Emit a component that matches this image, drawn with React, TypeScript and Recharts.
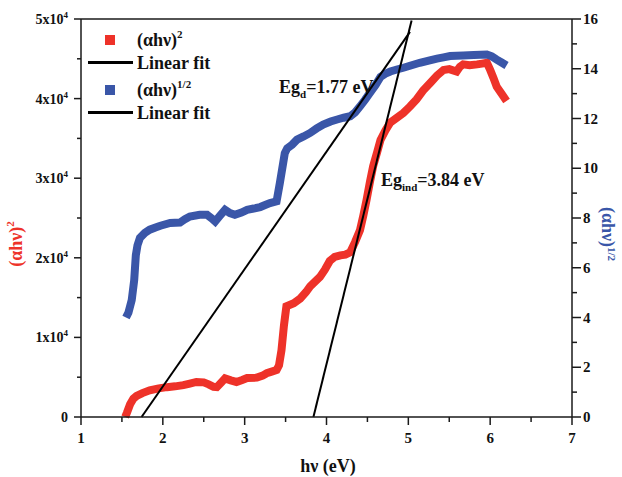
import React from 'react';
import { ComposedChart, Line, XAxis, YAxis, ReferenceLine } from 'recharts';

const RED = '#ee3229';
const BLUE = '#3a56a8';
const INK = '#1a1a1a';
const SERIF = '"Liberation Serif", "Times New Roman", serif';

// axis ticks (majors get a label, halves are minor ticks)
const xTicks = [1, 1.5, 2, 2.5, 3, 3.5, 4, 4.5, 5, 5.5, 6, 6.5, 7];
const leftTicks = [0, 5000, 10000, 15000, 20000, 25000, 30000, 35000, 40000, 45000, 50000];
const rightTicks = [0, 1, 2, 3, 4, 5, 6, 7, 8, 9, 10, 11, 12, 13, 14, 15, 16];

// (αhν)^2 vs hν
const redX = [
  1.54, 1.56, 1.6, 1.64, 1.68, 1.75, 1.84, 1.95, 2.05, 2.15, 2.25, 2.33, 2.41, 2.5, 2.56, 2.62, 2.66,
  2.72, 2.76, 2.83, 2.9, 2.97, 3.03, 3.15, 3.22, 3.27, 3.33, 3.39, 3.42, 3.45, 3.48, 3.51, 3.6, 3.68,
  3.75, 3.8, 3.86, 3.92, 3.98, 4.04, 4.1, 4.17, 4.23, 4.29, 4.35, 4.41, 4.45, 4.49, 4.53, 4.57, 4.62,
  4.66, 4.72, 4.78, 4.86, 4.94, 5.02, 5.1, 5.18, 5.27, 5.35, 5.43, 5.5, 5.59, 5.63, 5.67, 5.75, 5.84,
  5.9, 5.96, 6.0, 6.04, 6.08, 6.14, 6.2,
];
const redY = [
  0, 500, 1600, 2300, 2650, 3000, 3350, 3600, 3750, 3850, 4000, 4200, 4400, 4350, 4100, 3800, 3750,
  4400, 4850, 4600, 4400, 4650, 4900, 4950, 5200, 5500, 5700, 5900, 6500, 8400, 11500, 13900, 14300,
  14900, 15700, 16400, 17000, 17600, 18500, 19600, 20100, 20300, 20400, 20700, 22000, 23500, 25300,
  27300, 29500, 31500, 33300, 34800, 36000, 37000, 37600, 38200, 39000, 39900, 41000, 42000, 42900,
  43600, 43700, 43400, 44000, 44300, 44200, 44300, 44400, 44500, 43600, 42600, 41500, 40600, 39700,
];

// (αhν)^1/2 vs hν
const blueX = [
  1.55, 1.58, 1.62, 1.65, 1.67, 1.69, 1.72, 1.78, 1.84, 1.91, 1.97, 2.09, 2.21, 2.27, 2.33, 2.45, 2.54,
  2.6, 2.64, 2.7, 2.76, 2.82, 2.88, 2.96, 3.03, 3.11, 3.19, 3.25, 3.31, 3.39, 3.43, 3.47, 3.49, 3.52,
  3.58, 3.64, 3.72, 3.8, 3.88, 3.96, 4.05, 4.13, 4.21, 4.29, 4.35, 4.41, 4.47, 4.53, 4.6, 4.66, 4.72,
  4.78, 4.86, 4.94, 5.04, 5.14, 5.25, 5.35, 5.43, 5.51, 5.67, 5.8, 5.96, 6.02, 6.08, 6.14, 6.2,
];
const blueY = [
  4.0, 4.2, 4.7, 5.5, 6.5, 6.9, 7.2, 7.4, 7.53, 7.62, 7.69, 7.8, 7.82, 7.95, 8.06, 8.13, 8.13, 7.98,
  7.86, 8.1, 8.33, 8.2, 8.13, 8.22, 8.33, 8.38, 8.44, 8.52, 8.6, 8.67, 9.41, 10.2, 10.6, 10.8, 10.95,
  11.15, 11.28, 11.42, 11.6, 11.76, 11.88, 11.96, 12.03, 12.09, 12.25, 12.49, 12.75, 13.03, 13.35,
  13.67, 13.8, 13.89, 13.97, 14.04, 14.14, 14.24, 14.33, 14.41, 14.46, 14.51, 14.53, 14.55, 14.57,
  14.5, 14.37, 14.25, 14.13,
];

// linear fits (end points)
const fitDirectX = [1.74, 5.02];
const fitDirectY = [0, 15.48];
const fitIndirectX = [3.84, 5.04];
const fitIndirectY = [0, 49800];

const zip = (xs: number[], ys: number[]) => xs.map((x, i) => ({ x, y: ys[i] }));

const tickText = { fontFamily: SERIF, fontWeight: 'bold' as const, fill: '#111' };

function XTick({ x, y, payload }: any) {
  const v = payload.value;
  const major = Number.isInteger(v);
  return (
    <g>
      <line x1={x} x2={x} y1={y} y2={y + (major ? 8 : 5)} stroke={INK} strokeWidth={1.5} />
      {major && (
        <text x={x} y={y + 26} textAnchor="middle" fontSize={15} {...tickText}>
          {v}
        </text>
      )}
    </g>
  );
}

function LeftTick({ x, y, payload }: any) {
  const v = payload.value;
  const major = v % 10000 === 0;
  const n = v / 10000;
  return (
    <g>
      <line x1={x - (major ? 7 : 4)} x2={x} y1={y} y2={y} stroke={INK} strokeWidth={1.5} />
      {major && (
        <text x={x - 13} y={y + 5} textAnchor="end" fontSize={14} {...tickText}>
          {n === 0 ? (
            '0'
          ) : (
            <>
              {n}x10
              <tspan dy={-6} fontSize={9}>
                4
              </tspan>
            </>
          )}
        </text>
      )}
    </g>
  );
}

function RightTick({ x, y, payload }: any) {
  const v = payload.value;
  const major = v % 2 === 0;
  return (
    <g>
      <line x1={x} x2={x + (major ? 9 : 5)} y1={y} y2={y} stroke={INK} strokeWidth={1.5} />
      {major && (
        <text x={x + 11} y={y + 5} textAnchor="start" fontSize={15} {...tickText}>
          {v}
        </text>
      )}
    </g>
  );
}

const txt: React.CSSProperties = {
  position: 'absolute',
  fontFamily: SERIF,
  fontWeight: 'bold',
  fontSize: 18,
  lineHeight: '18px',
  whiteSpace: 'nowrap',
  color: '#111',
};
const sup: React.CSSProperties = { fontSize: 11, position: 'relative', top: -8 };
const sub: React.CSSProperties = { fontSize: 11, position: 'relative', top: 5 };

export default function App() {
  return (
    <div
      style={{
        position: 'absolute',
        left: 0,
        top: 0,
        width: 622,
        height: 477,
        overflow: 'hidden',
        background: '#fff',
      }}
    >
      <ComposedChart width={622} height={477} margin={{ top: 19, right: 10, bottom: 10, left: 10 }}>
        <XAxis
          dataKey="x"
          type="number"
          domain={[1, 7]}
          ticks={xTicks}
          interval={0}
          tickSize={0}
          tickMargin={0}
          tickLine={false}
          tick={<XTick />}
          height={50}
          axisLine={{ stroke: INK, strokeWidth: 1.5 }}
          allowDataOverflow
        />
        <YAxis
          yAxisId="left"
          orientation="left"
          type="number"
          domain={[0, 50000]}
          ticks={leftTicks}
          interval={0}
          tickSize={0}
          tickMargin={0}
          tickLine={false}
          tick={<LeftTick />}
          width={71}
          axisLine={{ stroke: INK, strokeWidth: 1.5 }}
        />
        <YAxis
          yAxisId="right"
          orientation="right"
          type="number"
          domain={[0, 16]}
          ticks={rightTicks}
          interval={0}
          tickSize={0}
          tickMargin={0}
          tickLine={false}
          tick={<RightTick />}
          width={40}
          axisLine={{ stroke: INK, strokeWidth: 1.5 }}
        />
        <ReferenceLine yAxisId="left" y={50000} stroke={INK} strokeWidth={1.5} />
        <Line
          data={zip(redX, redY)}
          dataKey="y"
          yAxisId="left"
          type="linear"
          stroke={RED}
          strokeWidth={8}
          dot={false}
          isAnimationActive={false}
        />
        <Line
          data={zip(blueX, blueY)}
          dataKey="y"
          yAxisId="right"
          type="linear"
          stroke={BLUE}
          strokeWidth={8}
          dot={false}
          isAnimationActive={false}
        />
        <Line
          data={zip(fitDirectX, fitDirectY)}
          dataKey="y"
          yAxisId="right"
          type="linear"
          stroke="#000"
          strokeWidth={2}
          dot={false}
          isAnimationActive={false}
        />
        <Line
          data={zip(fitIndirectX, fitIndirectY)}
          dataKey="y"
          yAxisId="left"
          type="linear"
          stroke="#000"
          strokeWidth={2}
          dot={false}
          isAnimationActive={false}
        />
      </ComposedChart>

      {/* legend */}
      <div style={{ position: 'absolute', left: 105, top: 35, width: 10, height: 10, background: RED }} />
      <div style={{ ...txt, left: 137, top: 31 }}>
        (αhν)<span style={sup}>2</span>
      </div>
      <div style={{ position: 'absolute', left: 88, top: 61, width: 45, height: 3, background: '#000' }} />
      <div style={{ ...txt, left: 137, top: 54 }}>Linear fit</div>
      <div style={{ position: 'absolute', left: 105, top: 85, width: 10, height: 10, background: BLUE }} />
      <div style={{ ...txt, left: 137, top: 81 }}>
        (αhν)<span style={sup}>1/2</span>
      </div>
      <div style={{ position: 'absolute', left: 88, top: 111, width: 45, height: 3, background: '#000' }} />
      <div style={{ ...txt, left: 137, top: 104 }}>Linear fit</div>

      {/* band gap annotations */}
      <div style={{ ...txt, left: 279, top: 78 }}>
        Eg<span style={sub}>d</span>=1.77 eV
      </div>
      <div style={{ ...txt, left: 381, top: 171 }}>
        Eg<span style={sub}>ind</span>=3.84 eV
      </div>

      {/* axis titles */}
      <div style={{ ...txt, left: 328, top: 466, transform: 'translate(-50%, -50%)' }}>hν (eV)</div>
      <div
        style={{ ...txt, left: 17, top: 244, color: RED, transform: 'translate(-50%, -50%) rotate(-90deg)' }}
      >
        (αhν)<span style={sup}>2</span>
      </div>
      <div
        style={{ ...txt, left: 607, top: 234, color: BLUE, transform: 'translate(-50%, -50%) rotate(90deg)' }}
      >
        (αhν)<span style={{ ...sup, top: -6 }}>1/2</span>
      </div>
    </div>
  );
}
